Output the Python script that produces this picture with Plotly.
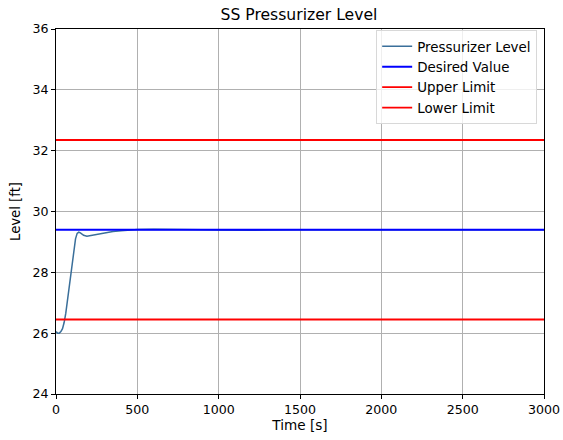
import plotly.graph_objects as go

time_s = [0, 10, 20, 30, 40, 50, 60, 70, 80, 90, 100, 110, 120, 130, 140, 150, 170, 190, 220, 260, 300,
          350, 400, 450, 500, 600, 700, 800, 900, 1000, 1100, 1200, 1300, 1400, 1500, 2000, 2500, 3000]
level_ft = [26.05, 26.0, 26.0, 26.05, 26.15, 26.35, 26.65, 27.05, 27.5, 27.95, 28.4, 28.8, 29.1, 29.28, 29.32, 29.3,
            29.22, 29.19, 29.22, 29.26, 29.3, 29.34, 29.37, 29.39, 29.41, 29.42, 29.42, 29.41, 29.4, 29.39,
            29.38, 29.38, 29.39, 29.4, 29.4, 29.4, 29.4, 29.4]
t_range = [0, 3000]
desired_value = 29.4
upper_limit = 32.35
lower_limit = 26.45
x_ticks = [0, 500, 1000, 1500, 2000, 2500, 3000]
y_ticks = [24, 26, 28, 30, 32, 34, 36]

font = "DejaVu Sans"
fig = go.Figure()
fig.add_trace(go.Scatter(x=time_s, y=level_ft, mode="lines", name="Pressurizer Level",
                         line=dict(color="#3a6f9a", width=1.5)))
fig.add_trace(go.Scatter(x=t_range, y=[desired_value] * 2, mode="lines", name="Desired Value",
                         line=dict(color="blue", width=1.8)))
fig.add_trace(go.Scatter(x=t_range, y=[upper_limit] * 2, mode="lines", name="Upper Limit",
                         line=dict(color="red", width=1.8)))
fig.add_trace(go.Scatter(x=t_range, y=[lower_limit] * 2, mode="lines", name="Lower Limit",
                         line=dict(color="red", width=1.8)))

axis_common = dict(showline=True, linecolor="black", linewidth=1, mirror=True,
                   ticks="outside", ticklen=4, tickcolor="black", tickwidth=1,
                   showgrid=True, gridcolor="#b0b0b0", gridwidth=0.7, zeroline=False,
                   automargin=False, ticklabeloverflow="allow",
                   tickfont=dict(family=font, size=12.6, color="black"))

fig.update_layout(
    width=563, height=440,
    margin=dict(l=56, r=19, t=29, b=46, autoexpand=False),
    paper_bgcolor="white", plot_bgcolor="white",
    font=dict(family=font, size=12.6, color="black"),
    title=dict(text="SS Pressurizer Level", x=0.531, xanchor="center", y=0.966, yanchor="middle",
               font=dict(family=font, size=15.6, color="black")),
    xaxis=dict(range=[0, 3000], tickvals=x_ticks, title=dict(text="Time [s]", standoff=4,
               font=dict(family=font, size=13.6)), **axis_common),
    yaxis=dict(range=[24, 36], tickvals=y_ticks, title=dict(text="Level [ft]", standoff=8,
               font=dict(family=font, size=13.2)), **axis_common),
    legend=dict(x=0.986, y=0.997, xanchor="right", yanchor="top", bgcolor="rgba(255,255,255,0.8)",
                bordercolor="#d8d8d8", borderwidth=1, font=dict(family=font, size=13.4),
                itemwidth=30, tracegroupgap=0),
    showlegend=True,
)

fig.write_html("out.html")
